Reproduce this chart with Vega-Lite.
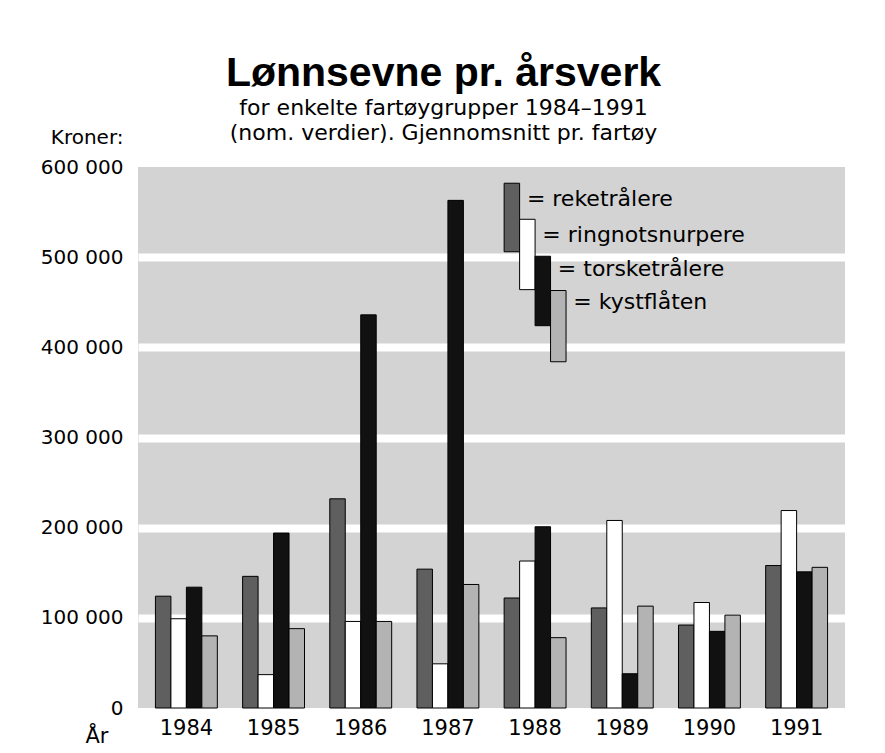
{
  "$schema": "https://vega.github.io/schema/vega-lite/v6.json",
  "autosize": {"type": "none"},
  "padding": {"left": 138, "top": 167, "right": 40, "bottom": 45},
  "width": 707,
  "height": 541,
  "background": "white",
  "title": {
    "text": "Lønnsevne pr. årsverk",
    "subtitle": ["for enkelte fartøygrupper 1984–1991", "(nom. verdier). Gjennomsnitt pr. fartøy"],
    "anchor": "middle",
    "frame": "group",
    "dx": -48,
    "offset": -18,
    "font": "Liberation Sans",
    "fontSize": 41,
    "fontWeight": "bold",
    "color": "black",
    "subtitleFont": "DejaVu Sans",
    "subtitleFontSize": 22,
    "subtitleColor": "black",
    "subtitleLineHeight": 25,
    "subtitlePadding": 3
  },
  "config": {
    "view": {"stroke": null, "fill": "#d3d3d3"},
    "font": "DejaVu Sans"
  },
  "datasets": {
    "bars": [
      {"year": "1984", "series": "reketrålere", "value": 124000},
      {"year": "1984", "series": "ringnotsnurpere", "value": 99000},
      {"year": "1984", "series": "torsketrålere", "value": 134000},
      {"year": "1984", "series": "kystflåten", "value": 80000},
      {"year": "1985", "series": "reketrålere", "value": 146000},
      {"year": "1985", "series": "ringnotsnurpere", "value": 37000},
      {"year": "1985", "series": "torsketrålere", "value": 194000},
      {"year": "1985", "series": "kystflåten", "value": 88000},
      {"year": "1986", "series": "reketrålere", "value": 232000},
      {"year": "1986", "series": "ringnotsnurpere", "value": 96000},
      {"year": "1986", "series": "torsketrålere", "value": 436000},
      {"year": "1986", "series": "kystflåten", "value": 96000},
      {"year": "1987", "series": "reketrålere", "value": 154000},
      {"year": "1987", "series": "ringnotsnurpere", "value": 49000},
      {"year": "1987", "series": "torsketrålere", "value": 563000},
      {"year": "1987", "series": "kystflåten", "value": 137000},
      {"year": "1988", "series": "reketrålere", "value": 122000},
      {"year": "1988", "series": "ringnotsnurpere", "value": 163000},
      {"year": "1988", "series": "torsketrålere", "value": 201000},
      {"year": "1988", "series": "kystflåten", "value": 78000},
      {"year": "1989", "series": "reketrålere", "value": 111000},
      {"year": "1989", "series": "ringnotsnurpere", "value": 208000},
      {"year": "1989", "series": "torsketrålere", "value": 38000},
      {"year": "1989", "series": "kystflåten", "value": 113000},
      {"year": "1990", "series": "reketrålere", "value": 92000},
      {"year": "1990", "series": "ringnotsnurpere", "value": 117000},
      {"year": "1990", "series": "torsketrålere", "value": 85000},
      {"year": "1990", "series": "kystflåten", "value": 103000},
      {"year": "1991", "series": "reketrålere", "value": 158000},
      {"year": "1991", "series": "ringnotsnurpere", "value": 219000},
      {"year": "1991", "series": "torsketrålere", "value": 151000},
      {"year": "1991", "series": "kystflåten", "value": 156000}
    ],
    "legend": [
      {"year": "1988", "series": "reketrålere", "top": 582000, "bottom": 506000, "label": "= reketrålere", "labelY": 564000},
      {"year": "1988", "series": "ringnotsnurpere", "top": 542000, "bottom": 464000, "label": "= ringnotsnurpere", "labelY": 525000},
      {"year": "1988", "series": "torsketrålere", "top": 501000, "bottom": 424000, "label": "= torsketrålere", "labelY": 487000},
      {"year": "1988", "series": "kystflåten", "top": 463000, "bottom": 384000, "label": "= kystflåten", "labelY": 450000}
    ]
  },
  "layer": [
    {
      "data": {"name": "bars"},
      "mark": {"type": "bar", "stroke": "black", "strokeWidth": 1},
      "encoding": {
        "x": {
          "field": "year", "type": "nominal",
          "scale": {"paddingInner": 0.29, "paddingOuter": 0.2},
          "axis": {
            "title": "År", "titleFont": "DejaVu Sans", "titleFontSize": 21, "titleFontWeight": "normal",
            "titleAlign": "left", "titleBaseline": "alphabetic", "titleX": -53, "titleY": 34, "titleAngle": 0,
            "labelFont": "DejaVu Sans", "labelFontSize": 21, "labelColor": "black", "labelAngle": 0,
            "labelPadding": 9, "domain": false, "ticks": false
          }
        },
        "xOffset": {
          "field": "series", "type": "nominal",
          "scale": {"domain": ["reketrålere", "ringnotsnurpere", "torsketrålere", "kystflåten"], "paddingInner": 0, "paddingOuter": 0}
        },
        "y": {
          "field": "value", "type": "quantitative",
          "scale": {"domain": [0, 600000], "nice": false},
          "axis": {
            "title": "Kroner:", "titleFont": "DejaVu Sans", "titleFontSize": 20, "titleFontWeight": "normal",
            "titleAngle": 0, "titleAlign": "right", "titleBaseline": "alphabetic", "titleX": -15, "titleY": -24,
            "values": [0, 100000, 200000, 300000, 400000, 500000, 600000],
            "labelExpr": "replace(format(datum.value, ','), ',', ' ')",
            "labelFont": "DejaVu Sans", "labelFontSize": 20, "labelColor": "black", "labelPadding": 15,
            "domain": false, "ticks": false,
            "grid": true, "gridColor": "white", "gridWidth": 8,
            "gridOpacity": {"condition": {"test": "datum.value === 0 || datum.value === 600000", "value": 0}, "value": 1}
          }
        },
        "color": {
          "field": "series", "type": "nominal",
          "scale": {"domain": ["reketrålere", "ringnotsnurpere", "torsketrålere", "kystflåten"], "range": ["#5f5f5f", "#ffffff", "#111111", "#b3b3b3"]},
          "legend": null
        }
      }
    },
    {
      "data": {"name": "legend"},
      "mark": {"type": "bar", "stroke": "black", "strokeWidth": 1},
      "encoding": {
        "x": {"field": "year", "type": "nominal"},
        "xOffset": {"field": "series", "type": "nominal"},
        "y": {"field": "top", "type": "quantitative"},
        "y2": {"field": "bottom"},
        "color": {"field": "series", "type": "nominal", "legend": null}
      }
    },
    {
      "data": {"name": "legend"},
      "mark": {"type": "text", "align": "left", "baseline": "middle", "dx": 15, "font": "DejaVu Sans", "fontSize": 22, "color": "black"},
      "encoding": {
        "x": {"field": "year", "type": "nominal"},
        "xOffset": {"field": "series", "type": "nominal"},
        "y": {"field": "labelY", "type": "quantitative"},
        "text": {"field": "label"}
      }
    }
  ]
}
